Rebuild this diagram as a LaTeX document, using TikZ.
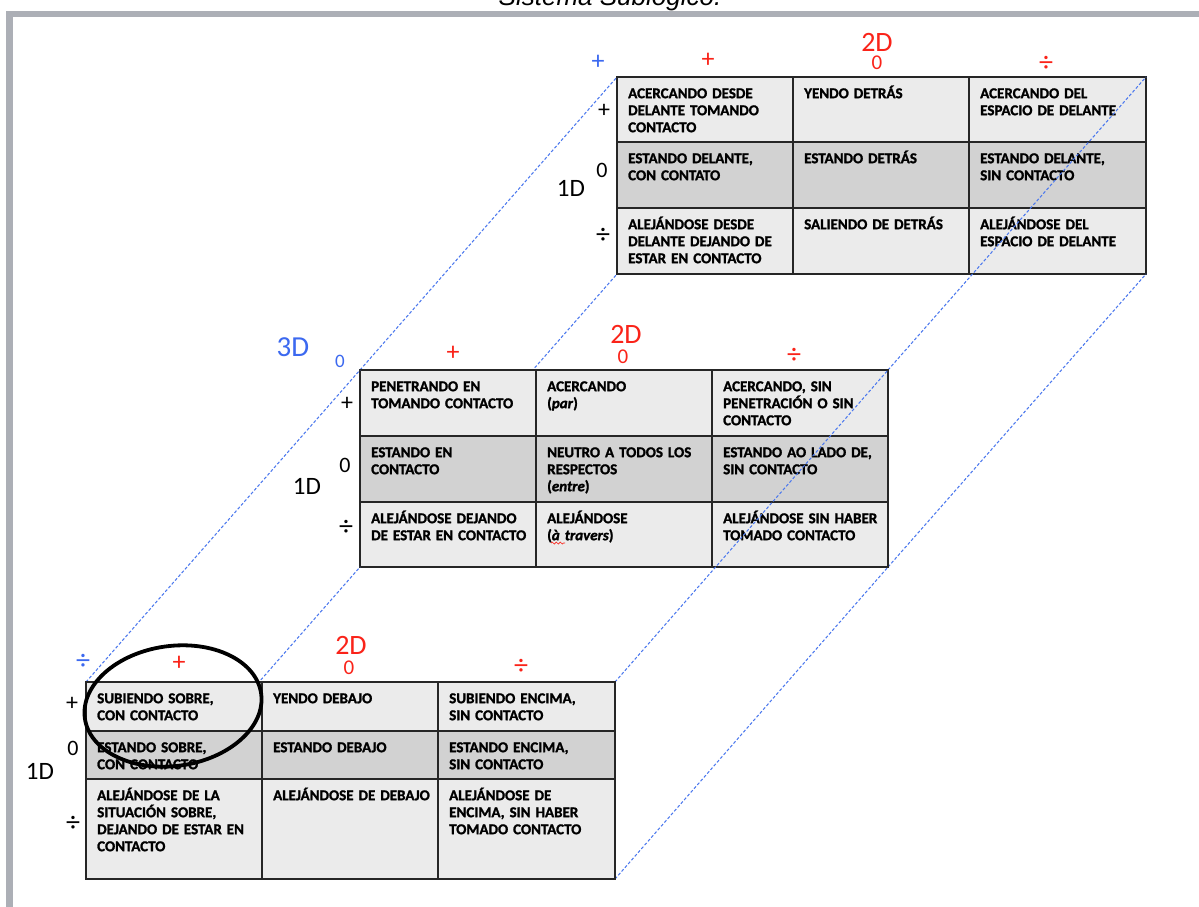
\documentclass[tikz,border=0pt]{standalone}
\usepackage{fontspec}
\setmainfont{Carlito}
\newfontfamily\cellfont[FakeBold=1.5]{Carlito}
\newfontfamily\titlefont{Liberation Sans}
\usetikzlibrary{decorations.pathmorphing}
\definecolor{cellA}{RGB}{235,235,235}
\definecolor{cellB}{RGB}{210,210,210}
\definecolor{gridc}{RGB}{38,38,38}
\definecolor{dimred}{RGB}{250,35,25}
\definecolor{dimblue}{RGB}{60,105,240}
\definecolor{linkblue}{RGB}{75,120,238}
\definecolor{framegray}{RGB}{172,175,182}
\newcommand{\mkcell}[7]{%
  \node[cellbox, fill=#6, minimum width=#4pt, minimum height=#5pt] (#1) at (#2,#3) {};
  \node[celltext] (#1t) at ([xshift=11pt, yshift=-8pt]#1.north west) {\rule{0pt}{13pt}#7};}
\begin{document}
\begin{tikzpicture}[x=1pt,y=-1pt,
  cellbox/.style={draw=gridc, line width=1.7pt, anchor=north west, inner sep=0pt, outer sep=0pt},
  celltext/.style={anchor=north west, inner sep=0pt, text width=172pt, align=left,
    font=\cellfont\bfseries\fontsize{15}{17}\selectfont},
  link/.style={draw=linkblue, line width=1.05pt, dash pattern=on 3pt off 2pt},
  plussym/.style={inner sep=0pt, font=\fontsize{26}{28}\selectfont},
  zerosym/.style={inner sep=0pt, font=\fontsize{21}{23}\selectfont},
  divsym/.style={inner sep=0pt, font=\fontsize{28}{30}\selectfont},
  redlab/.style={text=dimred},
  bluelab/.style={text=dimblue},
  blacklab/.style={text=black},
  dimredbig/.style={text=dimred, inner sep=0pt, font=\fontsize{28}{30}\selectfont},
  dimbluebig/.style={text=dimblue, inner sep=0pt, font=\fontsize{29}{31}\selectfont},
  dimblackbig/.style={text=black, inner sep=0pt, font=\fontsize{25}{27}\selectfont}
]
\useasboundingbox (0,0) rectangle (1199,907);
\fill[white] (0,0) rectangle (1199,907);
% frame and title
\fill[framegray] (6,11) rectangle (1199,17.5);
\fill[framegray] (6,11) rectangle (12.5,907);
\node[anchor=base, inner sep=0pt, font=\titlefont\itshape\fontsize{26}{30}\selectfont] (title) at (610,6) {Sistema Sublógico.};

% corners of the three tables
\coordinate (T-tl) at (617,77);  \coordinate (T-tr) at (1146,77);
\coordinate (T-br) at (1146,274); \coordinate (T-bl) at (617,274);
\coordinate (M-tl) at (360,370);  \coordinate (M-tr) at (888,370);
\coordinate (M-br) at (888,567);  \coordinate (M-bl) at (360,567);
\coordinate (B-tl) at (86,682);   \coordinate (B-tr) at (615,682);
\coordinate (B-br) at (615,879);  \coordinate (B-bl) at (86,879);

% ---------- top table (back) ----------
\mkcell{T11}{617}{77}{176}{65}{cellA}{ACERCANDO DESDE\\DELANTE TOMANDO\\CONTACTO}
\mkcell{T12}{793}{77}{176}{65}{cellA}{YENDO DETRÁS}
\mkcell{T13}{969}{77}{177}{65}{cellA}{ACERCANDO DEL\\ESPACIO DE DELANTE}
\mkcell{T21}{617}{142}{176}{66}{cellB}{ESTANDO DELANTE,\\CON CONTATO}
\mkcell{T22}{793}{142}{176}{66}{cellB}{ESTANDO DETRÁS}
\mkcell{T23}{969}{142}{177}{66}{cellB}{ESTANDO DELANTE,\\SIN CONTACTO}
\mkcell{T31}{617}{208}{176}{66}{cellA}{ALEJÁNDOSE DESDE\\DELANTE DEJANDO DE\\ESTAR EN CONTACTO}
\mkcell{T32}{793}{208}{176}{66}{cellA}{SALIENDO DE DETRÁS}
\mkcell{T33}{969}{208}{177}{66}{cellA}{ALEJÁNDOSE DEL\\ESPACIO DE DELANTE}

% links middle -> top
\draw[link] (M-tl) -- (T-tl);
\draw[link] (M-tr) -- (T-tr);
\draw[link] (M-br) -- (T-br);
\draw[link] (M-bl) -- (T-bl);

% ---------- middle table ----------
\mkcell{M11}{360}{370}{176}{66}{cellA}{PENETRANDO EN\\TOMANDO CONTACTO}
\mkcell{M12}{536}{370}{176}{66}{cellA}{ACERCANDO\\(\textit{par})}
\mkcell{M13}{712}{370}{176}{66}{cellA}{ACERCANDO, SIN\\PENETRACIÓN O SIN\\CONTACTO}
\mkcell{M21}{360}{436}{176}{66}{cellB}{ESTANDO EN\\CONTACTO}
\mkcell{M22}{536}{436}{176}{66}{cellB}{NEUTRO A TODOS LOS\\RESPECTOS\\(\textit{entre})}
\mkcell{M23}{712}{436}{176}{66}{cellB}{ESTANDO AO LADO DE,\\SIN CONTACTO}
\mkcell{M31}{360}{502}{176}{65}{cellA}{ALEJÁNDOSE DEJANDO\\DE ESTAR EN CONTACTO}
\mkcell{M32}{536}{502}{176}{65}{cellA}{ALEJÁNDOSE\\(\textit{à travers})}
\mkcell{M33}{712}{502}{176}{65}{cellA}{ALEJÁNDOSE SIN HABER\\TOMADO CONTACTO}
\draw[dimred, line width=0.7pt, decorate, decoration={snake, amplitude=1pt, segment length=4pt}] (551,543) -- (565,543);

% links bottom -> middle
\draw[link] (B-tl) -- (M-tl);
\draw[link] (B-tr) -- (M-tr);
\draw[link] (B-br) -- (M-br);
\draw[link] (B-bl) -- (M-bl);

% ---------- bottom table (front) ----------
\mkcell{B11}{86}{682}{176}{49}{cellA}{SUBIENDO SOBRE,\\CON CONTACTO}
\mkcell{B12}{262}{682}{176}{49}{cellA}{YENDO DEBAJO}
\mkcell{B13}{438}{682}{177}{49}{cellA}{SUBIENDO ENCIMA,\\SIN CONTACTO}
\mkcell{B21}{86}{731}{176}{48}{cellB}{ESTANDO SOBRE,\\CON CONTACTO}
\mkcell{B22}{262}{731}{176}{48}{cellB}{ESTANDO DEBAJO}
\mkcell{B23}{438}{731}{177}{48}{cellB}{ESTANDO ENCIMA,\\SIN CONTACTO}
\mkcell{B31}{86}{779}{176}{100}{cellA}{ALEJÁNDOSE DE LA\\SITUACIÓN SOBRE,\\DEJANDO DE ESTAR EN\\CONTACTO}
\mkcell{B32}{262}{779}{176}{100}{cellA}{ALEJÁNDOSE DE DEBAJO}
\mkcell{B33}{438}{779}{177}{100}{cellA}{ALEJÁNDOSE DE\\ENCIMA, SIN HABER\\TOMADO CONTACTO}

% ---------- axis labels ----------
% 3D (blue)
\node[dimbluebig] (l3D) at (293,347) {3D};
\node[bluelab, plussym] (bT) at (598,62) {+};
\node[bluelab, zerosym, font=\fontsize{19}{21}\selectfont] (bM) at (340,361) {0};
\node[bluelab, divsym] (bB) at (83,662) {÷};
% 2D (red)
\node[dimredbig] (t2D) at (877,42) {2D};
\node[redlab, plussym] (tcp) at (708,60) {+};
\node[redlab, zerosym] (tc0) at (877,63) {0};
\node[redlab, divsym] (tcd) at (1046,64) {÷};
\node[dimredbig] (m2D) at (626,334) {2D};
\node[redlab, plussym] (mcp) at (453,353) {+};
\node[redlab, zerosym] (mc0) at (623,357) {0};
\node[redlab, divsym] (mcd) at (794,356) {÷};
\node[dimredbig] (b2D) at (351,645) {2D};
\node[redlab, plussym] (bcp) at (179,663) {+};
\node[redlab, zerosym] (bc0) at (349,668) {0};
\node[redlab, divsym] (bcd) at (521,667) {÷};
% 1D (black)
\node[dimblackbig] (t1D) at (571,188) {1D};
\node[blacklab, plussym, font=\fontsize{24}{26}\selectfont] (trp) at (604,111) {+};
\node[blacklab, zerosym, font=\fontsize{22}{24}\selectfont] (tr0) at (602,170) {0};
\node[blacklab, divsym] (trd) at (603,236) {÷};
\node[dimblackbig] (m1D) at (307,486) {1D};
\node[blacklab, plussym, font=\fontsize{24}{26}\selectfont] (mrp) at (347,404) {+};
\node[blacklab, zerosym, font=\fontsize{22}{24}\selectfont] (mr0) at (345,465) {0};
\node[blacklab, divsym] (mrd) at (346,528) {÷};
\node[dimblackbig] (b1D) at (40,771) {1D};
\node[blacklab, plussym, font=\fontsize{24}{26}\selectfont] (brp) at (72,704) {+};
\node[blacklab, zerosym, font=\fontsize{22}{24}\selectfont] (br0) at (73,748) {0};
\node[blacklab, divsym] (brd) at (73,824) {÷};

% ---------- highlight ellipse ----------
\draw[black, line width=3.8pt, rotate around={8:(173,706)}] (173,706) ellipse (89 and 60);
\end{tikzpicture}
\end{document}
